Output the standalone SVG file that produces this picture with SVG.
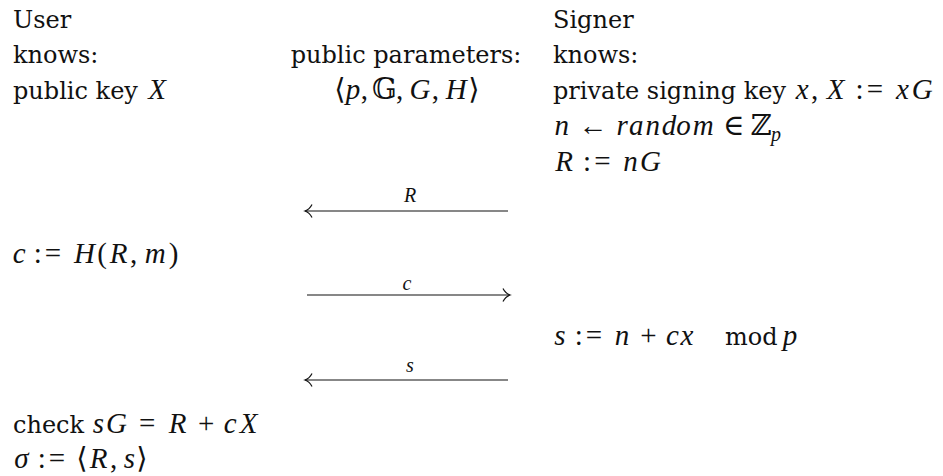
<svg xmlns="http://www.w3.org/2000/svg" width="943" height="476" viewBox="0 0 943 476">
<defs>
<marker id="ah" markerWidth="14" markerHeight="16" refX="10" refY="8" orient="auto" markerUnits="userSpaceOnUse">
<path d="M3,1.5 Q5.5,6.5 10,8 Q5.5,9.5 3,14.5" fill="none" stroke="#111" stroke-width="1.2"/>
</marker>
<style>
.t{font-family:"DejaVu Serif","Liberation Serif",serif;font-size:24px;fill:#111}
.m{font-family:"Liberation Serif","DejaVu Serif","DejaVu Sans",serif;font-size:29px;font-style:italic;fill:#111;text-anchor:middle}
.u{font-style:normal}
.sm{font-family:"Liberation Serif","DejaVu Serif",serif;font-size:20px;font-style:italic;fill:#111;text-anchor:middle}
.ln{stroke:#111;stroke-width:1.2;fill:none}
</style>
</defs>
<rect width="943" height="476" fill="#fff"/>
<g id="user">
<text class="t" x="13" y="28">User</text>
<text class="t" x="13" y="63">knows:</text>
<text class="t" x="13" y="99">public key</text>
<text class="m" y="99"><tspan x="157">X</tspan></text>
</g>
<g id="public">
<text class="t" x="406" y="63" text-anchor="middle">public parameters:</text>
<text class="m" y="99"><tspan class="u" x="340">⟨</tspan><tspan x="352.9">p</tspan><tspan class="u" x="364.3">,</tspan><tspan class="u" x="384.4">𝔾</tspan><tspan class="u" x="399.7">,</tspan><tspan x="420">G</tspan><tspan class="u" x="435.4">,</tspan><tspan x="456.3">H</tspan><tspan class="u" x="474">⟩</tspan></text>
</g>
<g id="signer">
<text class="t" x="553" y="28">Signer</text>
<text class="t" x="553" y="63">knows:</text>
<text class="t" x="553" y="99">private signing key</text>
<text class="m" y="99"><tspan x="802.3">x</tspan><tspan class="u" x="814.6">,</tspan><tspan x="835.5">X</tspan><tspan class="u" x="859.6">:</tspan><tspan class="u" x="874.9">=</tspan><tspan x="902.5">x</tspan><tspan x="922.2">G</tspan></text>
<text class="m" y="135"><tspan x="561.7">n</tspan><tspan class="u" x="593">←</tspan><tspan x="622.1">r</tspan><tspan x="636.3">a</tspan><tspan x="652.7">n</tspan><tspan x="668.9">d</tspan><tspan x="683.5">o</tspan><tspan x="703.2">m</tspan><tspan class="u" x="733.7">∈</tspan><tspan class="u" x="761.1">ℤ</tspan><tspan x="775.9" y="141" font-size="20">p</tspan></text>
<text class="m" y="171"><tspan x="564">R</tspan><tspan class="u" x="587.1">:</tspan><tspan class="u" x="602.4">=</tspan><tspan x="630.4">n</tspan><tspan x="650.5">G</tspan></text>
</g>
<g id="user-c">
<text class="m" y="263"><tspan x="19.3">c</tspan><tspan class="u" x="37.7">:</tspan><tspan class="u" x="52.9">=</tspan><tspan x="84.4">H</tspan><tspan class="u" x="102.1">(</tspan><tspan x="118.7">R</tspan><tspan class="u" x="133.7">,</tspan><tspan x="155.3">m</tspan><tspan class="u" x="173.7">)</tspan></text>
</g>
<g id="signer-s">
<text class="m" y="345"><tspan x="559.8">s</tspan><tspan class="u" x="578.7">:</tspan><tspan class="u" x="594">=</tspan><tspan x="622">n</tspan><tspan class="u" x="648.5">+</tspan><tspan x="672.4">c</tspan><tspan x="687">x</tspan><tspan x="790">p</tspan></text>
<text class="t" x="725" y="345" font-size="22">mod</text>
</g>
<g id="user-check">
<text class="t" x="13" y="433">check</text>
<text class="m" y="433"><tspan x="98.3">s</tspan><tspan x="116.5">G</tspan><tspan class="u" x="147.3">=</tspan><tspan x="177.6">R</tspan><tspan class="u" x="206.3">+</tspan><tspan x="230.3">c</tspan><tspan x="248.6">X</tspan></text>
<text class="m" y="468"><tspan x="21.3">σ</tspan><tspan class="u" x="41.7">:</tspan><tspan class="u" x="57">=</tspan><tspan class="u" x="82">⟨</tspan><tspan x="98.6">R</tspan><tspan class="u" x="113.6">,</tspan><tspan x="129.3">s</tspan><tspan class="u" x="141.8">⟩</tspan></text>
</g>
<g id="connectors">
<line class="ln" x1="508" y1="211" x2="305" y2="211" marker-end="url(#ah)"/>
<text class="sm" x="410" y="202">R</text>
<line class="ln" x1="307" y1="295" x2="510" y2="295" marker-end="url(#ah)"/>
<text class="sm" x="407" y="290">c</text>
<line class="ln" x1="508" y1="380" x2="305" y2="380" marker-end="url(#ah)"/>
<text class="sm" x="410" y="372">s</text>
</g>
</svg>
